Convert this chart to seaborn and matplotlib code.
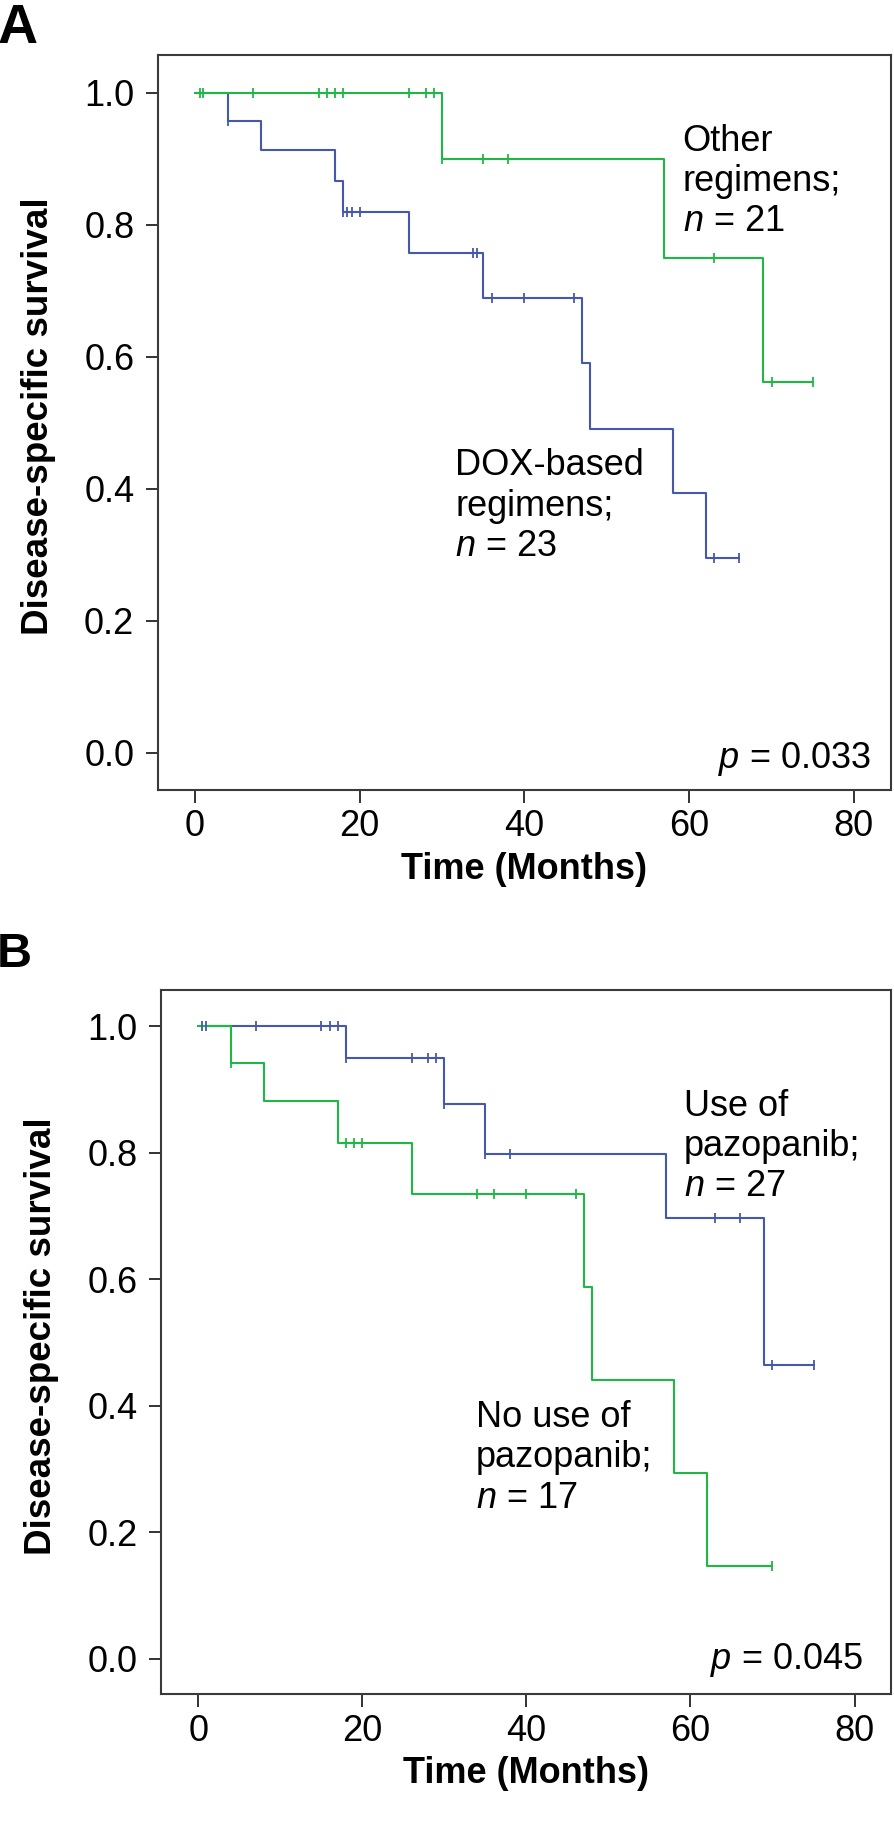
import numpy as np
import pandas as pd
import seaborn as sns
import matplotlib.pyplot as plt

# Panel A: DOX-based vs other regimens (step times / survival, censor times)
a_dox_t = [0, 4, 8, 17, 18, 26, 35, 47, 48, 58, 62, 66]
a_dox_s = [1.0, 0.957, 0.913, 0.866, 0.82, 0.757, 0.689, 0.59, 0.49, 0.393, 0.295, 0.295]
a_dox_cens = [4, 18, 18.4, 19, 20, 33.7, 34.2, 36, 40, 46, 63, 66]
a_oth_t = [0, 30, 57, 69, 75]
a_oth_s = [1.0, 0.9, 0.75, 0.5625, 0.5625]
a_oth_cens = [0.6, 1.0, 7, 15, 16, 17, 18, 26, 28, 29, 30, 35, 38, 63, 70, 75]

# Panel B: use vs no use of pazopanib
b_use_t = [0, 18, 30, 35, 57, 69, 75]
b_use_s = [1.0, 0.95, 0.877, 0.798, 0.697, 0.465, 0.465]
b_use_cens = [0.4, 0.9, 7, 15, 16, 17, 18, 26, 28, 29, 30, 35, 38, 63, 66, 70, 75]
b_no_t = [0, 4, 8, 17, 26, 47, 48, 58, 62, 70]
b_no_s = [1.0, 0.941, 0.882, 0.815, 0.735, 0.588, 0.441, 0.294, 0.147, 0.147]
b_no_cens = [4, 18, 19, 20, 34, 36, 40, 46, 70]

x_ticks = [0, 20, 40, 60, 80]
y_ticks = [0.0, 0.2, 0.4, 0.6, 0.8, 1.0]

GREEN = "#1fb845"
BLUE = "#4558ab"

sns.set_theme(style="ticks")
plt.rcParams["font.family"] = ["Liberation Sans", "DejaVu Sans"]
plt.rcParams["mathtext.fontset"] = "custom"
plt.rcParams["mathtext.rm"] = "Liberation Sans"
plt.rcParams["mathtext.it"] = "Liberation Sans:italic"
plt.rcParams["mathtext.bf"] = "Liberation Sans:bold"
plt.rcParams["text.color"] = "black"
plt.rcParams["axes.labelcolor"] = "black"
plt.rcParams["xtick.color"] = "black"
plt.rcParams["ytick.color"] = "black"


def draw_group(ax, t, s, cens, color):
    steps = pd.DataFrame({"time": t, "surv": s})
    sns.lineplot(data=steps, x="time", y="surv", drawstyle="steps-post",
                 color=color, lw=1.5, estimator=None, sort=False, ax=ax)
    idx = np.searchsorted(t, cens, side="right") - 1
    cy = np.array(s)[idx]
    sns.scatterplot(x=cens, y=cy, marker="|", s=45, color=color,
                    linewidth=1.3, ax=ax, zorder=3)


def style_axes(ax, xlab_y, ylab_x):
    ax.set_xlim(-4.5, 84.5)
    ax.set_ylim(-0.056, 1.057)
    ax.set_xticks(x_ticks)
    ax.set_yticks(y_ticks)
    ax.set_yticklabels([f"{v:.1f}" for v in y_ticks])
    ax.tick_params(axis="both", labelsize=26, length=9, width=1.4,
                   color="#333333", labelcolor="black", direction="out")
    ax.tick_params(axis="y", pad=8)
    ax.tick_params(axis="x", pad=5)
    for sp in ax.spines.values():
        sp.set_color("#3a3a3a")
        sp.set_linewidth(1.5)
    ax.set_xlabel("Time (Months)", fontsize=26, fontweight="bold")
    ax.set_ylabel("Disease-specific survival", fontsize=26.5, fontweight="bold")
    ax.xaxis.set_label_coords(0.5, xlab_y)
    ax.yaxis.set_label_coords(ylab_x, 0.508)


fig = plt.figure(figsize=(8.95, 18.35), dpi=100)

# ---- Panel A ----
axA = fig.add_axes([0.1765, 0.5695, 0.819, 0.4005])
draw_group(axA, a_dox_t, a_dox_s, a_dox_cens, BLUE)
draw_group(axA, a_oth_t, a_oth_s, a_oth_cens, GREEN)
style_axes(axA, -0.085, -0.139)
axA.text(59.2, 0.790, "Other\nregimens;\n$n$ = 21", fontsize=26,
         ha="left", va="baseline")
axA.text(31.6, 0.298, "DOX-based\nregimens;\n$n$ = 23", fontsize=26,
         ha="left", va="baseline")
axA.text(82.1, -0.022, "$p$ = 0.033", fontsize=26, ha="right", va="baseline")

# ---- Panel B ----
axB = fig.add_axes([0.1804, 0.0766, 0.8156, 0.3839])
draw_group(axB, b_use_t, b_use_s, b_use_cens, BLUE)
draw_group(axB, b_no_t, b_no_s, b_no_cens, GREEN)
style_axes(axB, -0.087, -0.141)
axB.text(59.2, 0.731, "Use of\npazopanib;\n$n$ = 27", fontsize=26,
         ha="left", va="baseline")
axB.text(33.8, 0.239, "No use of\npazopanib;\n$n$ = 17", fontsize=26,
         ha="left", va="baseline")
axB.text(81.1, -0.016, "$p$ = 0.045", fontsize=26, ha="right", va="baseline")

# panel letters
fig.text(-0.003, 1 - 43 / 1835, "A", fontsize=40, fontweight="bold",
         ha="left", va="baseline")
fig.text(-0.004, 1 - 967 / 1835, "B", fontsize=35, fontweight="bold",
         ha="left", va="baseline")

fig.savefig("out.png", dpi=100)
